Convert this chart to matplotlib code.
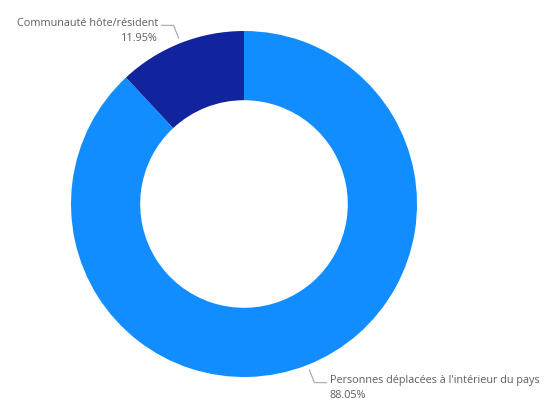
import numpy as np
import matplotlib.pyplot as plt

# data
categories = ["Personnes déplacées à l'intérieur du pays", "Communauté hôte/résident"]
values = [88.05, 11.95]
pct_labels = ["88.05%", "11.95%"]
colors = ["#118DFF", "#12239E"]

W, H = 546, 403
fig = plt.figure(figsize=(W / 100, H / 100), dpi=100)
# donut centre ~ (244, 204) px, outer radius ~173 px
cx, cy, R = 244, 204, 173
ax = fig.add_axes([(cx - R) / W, (H - cy - R) / H, 2 * R / W, 2 * R / H])

wedges, _ = ax.pie(values, colors=colors, startangle=90, counterclock=False,
                   radius=1, wedgeprops=dict(width=0.4, edgecolor="none"))
ax.set_xlim(-1, 1)
ax.set_ylim(-1, 1)
ax.set_aspect("equal")
ax.axis("off")

txt_col = "#605E5C"
line_col = "#A6A6A6"
for w, cat, pct in zip(wedges, categories, pct_labels):
    ang = np.deg2rad((w.theta1 + w.theta2) / 2)
    x0, y0 = 1.03 * np.cos(ang), 1.03 * np.sin(ang)
    x1, y1 = 1.11 * np.cos(ang), 1.11 * np.sin(ang)
    side = 1 if np.cos(ang) > 0 else -1
    x2 = x1 + side * 0.07
    ax.plot([x0, x1, x2], [y0, y1, y1], color=line_col, lw=0.8, clip_on=False)
    ha = "left" if side > 0 else "right"
    tx = x2 + side * 0.02
    ax.text(tx, y1 + 0.01, cat, ha=ha, va="center", fontsize=7.8,
            color=txt_col, family="Open Sans", clip_on=False)
    ax.text(tx, y1 - 0.075, pct, ha=ha, va="center", fontsize=7.8,
            color=txt_col, family="Open Sans", clip_on=False)

fig.savefig("out.png", dpi=100)
